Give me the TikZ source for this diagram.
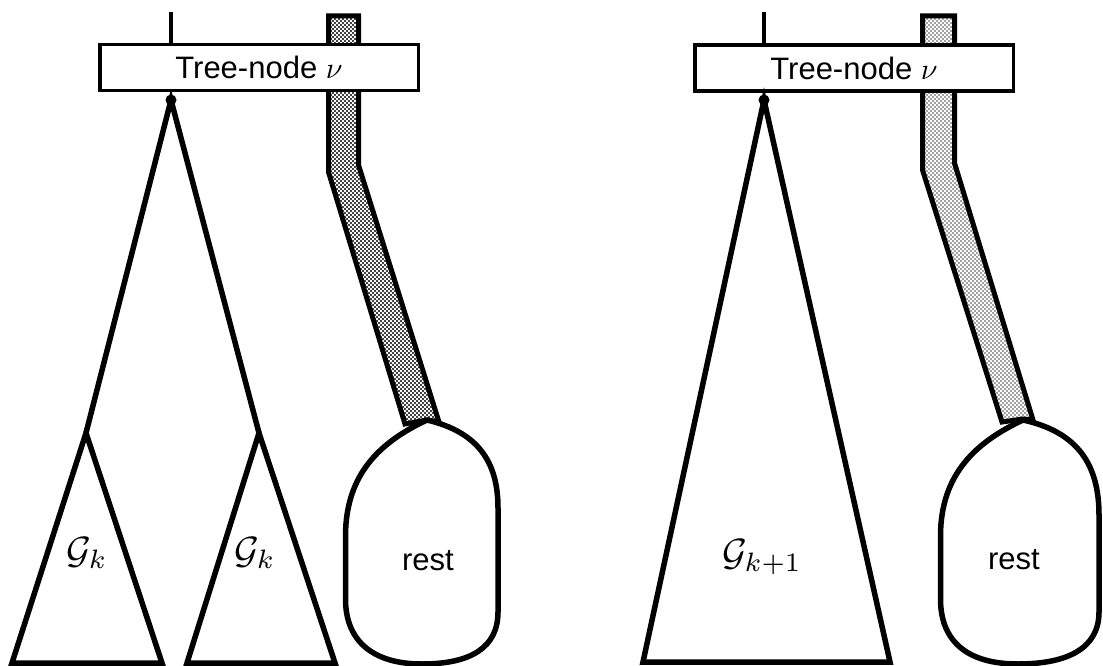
\documentclass[tikz,border=0pt]{standalone}
\usepackage{fontspec}
\setmainfont{Liberation Sans}
\usetikzlibrary{patterns}
% fine stipple used for the shaded ribbons
\pgfdeclarepatternformonly{stipple}{\pgfqpoint{-1pt}{-1pt}}{\pgfqpoint{5pt}{5pt}}{\pgfqpoint{4pt}{4pt}}{%
  \pgfpathcircle{\pgfqpoint{1pt}{1pt}}{1.05pt}%
  \pgfpathcircle{\pgfqpoint{3pt}{3pt}}{1.05pt}%
  \pgfusepath{fill}}
% math set at 10pt and enlarged
\newcommand\bigmath[2]{{\fontsize{10}{12}\selectfont\scalebox{#1}{$#2$}}}
\begin{document}
\begin{tikzpicture}[x=1pt,y=-1pt,
  tree/.style={line width=5.5pt,line join=miter},
  labelbox/.style={draw,line width=3.5pt,fill=white,minimum width=318.5pt,
    minimum height=46pt,inner sep=0pt,font=\fontsize{31}{36}\selectfont},
  stem/.style={line width=3.5pt},
  ribbon/.style={line width=5pt,line join=miter},
  blob/.style={line width=5.5pt,fill=white,line join=round},
  restlabel/.style={font=\fontsize{31}{36}\selectfont}]
\useasboundingbox (0,0) rectangle (1103,666);

% ---------------- left half ----------------
\draw[ribbon,pattern=stipple,pattern color=black]
  (328.5,16) -- (358.5,16) -- (358.5,165) -- (439,422) -- (427,420)
  -- (405,424) -- (328.5,172) -- cycle;
\node[labelbox] (boxL) at (259,67.5) {Tree-node \bigmath{3}{\nu}};
\coordinate (tL) at (171,12);
\draw[stem] (tL) -- (tL |- boxL.north);
\coordinate (aL) at (171,100);
\fill (aL) circle (5.5pt);
\coordinate (kL1) at (86,433);
\coordinate (kL2) at (259,433);
\coordinate (kL1a) at (12,663);
\coordinate (kL1b) at (162,663);
\coordinate (kL2a) at (187,663);
\coordinate (kL2b) at (335,663);
\draw[tree] (kL1) -- (aL) -- (kL2);
\draw[tree] (kL1) -- (kL1a) -- (kL1b) -- cycle;
\draw[tree] (kL2) -- (kL2a) -- (kL2b) -- cycle;
\node (gL1) at (87,553) {\bigmath{3.8}{\mathcal{G}_k}};
\node (gL2) at (255,553) {\bigmath{3.8}{\mathcal{G}_k}};
\draw[blob] (427,420) .. controls (478,432) and (498,462) .. (498,508)
  -- (498,612) .. controls (498,648) and (470,664) .. (422,664)
  .. controls (374,664) and (346,642) .. (345.5,600)
  -- (345.5,535) .. controls (346,474) and (380,442) .. (427,420) -- cycle;
\node[restlabel] (rL) at (428,561) {rest};

% ---------------- right half ----------------
\draw[ribbon,pattern=stipple,pattern color=black!50]
  (922.5,16) -- (954.5,16) -- (954.5,163) -- (1033,420) -- (1023,419)
  -- (1002,422) -- (922.5,170) -- cycle;
\node[labelbox] (boxR) at (854,68) {Tree-node \bigmath{3}{\nu}};
\coordinate (tR) at (764,12);
\draw[stem] (tR) -- (tR |- boxR.north);
\coordinate (aR) at (764,100);
\fill (aR) circle (5.5pt);
\coordinate (bR1) at (643,662);
\coordinate (bR2) at (890,662);
\draw[tree] (aR) -- (bR1) -- (bR2) -- cycle;
\node (gR) at (762,557) {\bigmath{3.8}{\mathcal{G}_{k+1}}};
\draw[blob] (1023,420) .. controls (1078,432) and (1099,465) .. (1099,515)
  -- (1099,612) .. controls (1099,648) and (1068,664) .. (1018,664)
  .. controls (968,664) and (941,642) .. (940.5,600)
  -- (940.5,535) .. controls (941,474) and (976,442) .. (1023,420) -- cycle;
\node[restlabel] (rR) at (1014,560) {rest};
\end{tikzpicture}
\end{document}
